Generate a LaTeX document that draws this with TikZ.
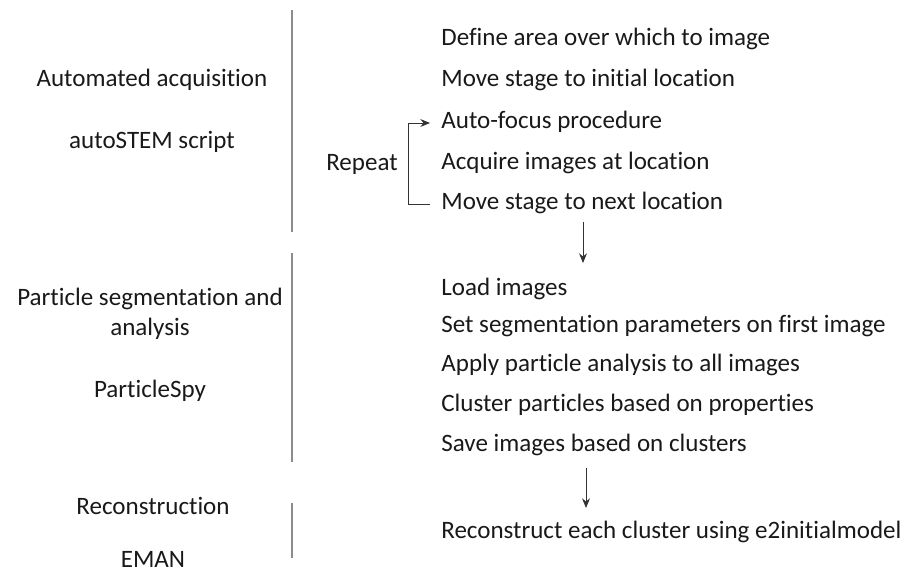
\documentclass[tikz,border=0pt]{standalone}
\usepackage{fontspec}
\setmainfont{Carlito}[Ligatures=CommonOff]
\usepackage{tikz}
\usetikzlibrary{arrows.meta,calc}

\begin{document}
\begin{tikzpicture}[x=0.02cm,y=-0.02cm]
\tikzstyle{txt}=[inner sep=0pt,font=\fontsize{14.25pt}{17pt}\selectfont,text=black!90]
\tikzstyle{task}=[txt,anchor=west,text height=0.64em,text depth=0pt]
\tikzstyle{tool}=[txt,anchor=center,align=center]
\tikzstyle{sep}=[draw=black!45,line width=0.7pt]
\tikzstyle{flow}=[draw=black!80,line width=0.5pt,-{Stealth[length=5.5pt,width=4.5pt]}]
\useasboundingbox (0,0) rectangle (908,574);
% acquisition
\node[tool] (acq) at (152,80) {Automated acquisition};
\node[tool] (auto) at (152,142) {autoSTEM script};
\draw[sep] (292,10) -- (292,232);
\node[task] (s1) at (441,40) {Define area over which to image};
\node[task] (s2) at (441,81) {Move stage to initial location};
\node[task] (s3) at (441,123) {Auto-focus procedure};
\node[task] (s4) at (441,164) {Acquire images at location};
\node[task] (s5) at (441,204) {Move stage to next location};
\node[tool] (rep) at (362,164) {Repeat};
\coordinate (rb) at (408,204);
\draw[flow] ($(s5.west)+(-11,0)$) -- (rb) |- ($(s3.west)+(-11,0)$);
\coordinate (d1) at (583,222);
\draw[flow] (d1) -- ++(0,41);
% segmentation
\node[tool] (seg) at (150,314) {Particle segmentation and\\analysis};
\node[tool] (spy) at (150,391) {ParticleSpy};
\draw[sep] (292,253) -- (292,462);
\node[task] (p1) at (441,290) {Load images};
\node[task] (p2) at (441,327) {Set segmentation parameters on first image};
\node[task] (p3) at (441,366) {Apply particle analysis to all images};
\node[task] (p4) at (441,406) {Cluster particles based on properties};
\node[task] (p5) at (441,446) {Save images based on clusters};
\coordinate (d2) at (586,468);
\draw[flow] (d2) -- ++(0,40);
% reconstruction
\node[tool] (rec) at (153,506) {Reconstruction};
\node[tool] (eman) at (153,559) {EMAN};
\draw[sep] (292,503) -- (292,558);
\node[task] (r1) at (441,533) {Reconstruct each cluster using e2initialmodel};
\end{tikzpicture}
\end{document}
